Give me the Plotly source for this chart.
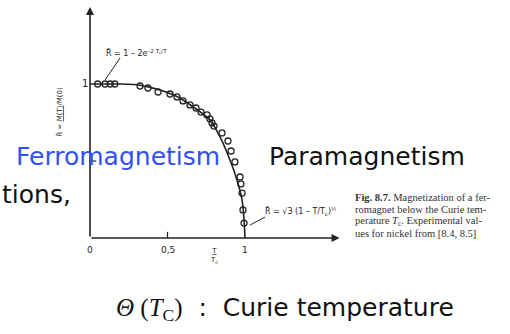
import plotly.graph_objects as go

# Experimental values for nickel: reduced temperature T/Tc and R = M(T)/M(0)
t_exp = [0.05, 0.097, 0.13, 0.16, 0.323, 0.374, 0.439, 0.516, 0.561, 0.600,
         0.645, 0.684, 0.716, 0.755, 0.774, 0.787, 0.800, 0.852, 0.890, 0.910,
         0.935, 0.968, 0.974, 0.981, 0.987, 0.994]
r_exp = [1.0, 1.0, 1.0, 1.0, 0.987, 0.974, 0.948, 0.935, 0.916, 0.890,
         0.864, 0.844, 0.818, 0.799, 0.773, 0.747, 0.727, 0.682, 0.630, 0.565,
         0.494, 0.396, 0.351, 0.292, 0.182, 0.097]

# Theoretical magnetization curve
t_theory = [0.0, 0.2, 0.3, 0.4, 0.5, 0.58, 0.65, 0.72, 0.774, 0.839, 0.903,
            0.948, 0.981, 0.994, 1.0]
r_theory = [1.0, 1.0, 0.995, 0.975, 0.945, 0.909, 0.862, 0.812, 0.766, 0.656,
            0.506, 0.377, 0.247, 0.117, 0.0]

x_tick_vals = [0, 0.5, 1]
x_tick_text = ["0", "0,5", "1"]

caption_lines = [
    "<b>Fig. 8.7.</b> Magnetization of a fer-",
    "romagnet below the Curie tem-",
    "perature <i>T</i><sub>c</sub>. Experimental val-",
    "ues for nickel from [8.4, 8.5]",
]
caption_rows_px = [197, 209, 221, 233]

INK = "#222222"
SERIF = "Liberation Serif, Times New Roman, serif"
SANS = "DejaVu Sans, Verdana, sans-serif"
W, H = 510, 334

fig = go.Figure()

fig.add_trace(go.Scatter(
    x=t_theory, y=r_theory, mode="lines",
    line=dict(color=INK, width=1.6, shape="spline", smoothing=0.6),
    hoverinfo="skip", showlegend=False))

fig.add_trace(go.Scatter(
    x=t_exp, y=r_exp, mode="markers",
    marker=dict(symbol="circle-open", size=6, color=INK, line=dict(width=1.3)),
    showlegend=False))

# Axes drawn as arrows
fig.add_annotation(x=0, y=1.50, ax=0, ay=0, xref="x", yref="y", axref="x", ayref="y",
                   showarrow=True, arrowhead=2, arrowsize=1, arrowwidth=1.6,
                   arrowcolor=INK, text="")
fig.add_annotation(x=1.61, y=0, ax=0, ay=0, xref="x", yref="y", axref="x", ayref="y",
                   showarrow=True, arrowhead=2, arrowsize=1, arrowwidth=1.6,
                   arrowcolor=INK, text="")

# Small tick marks
fig.add_shape(type="line", x0=0.5, x1=0.5, y0=0, y1=0.04, xref="x", yref="y",
              line=dict(color=INK, width=1.2))
fig.add_shape(type="line", x0=0, x1=0.04, y0=0.5, y1=0.5, xref="x", yref="y",
              line=dict(color=INK, width=1.2))

# Tick labels
for xv, xt in zip(x_tick_vals, x_tick_text):
    fig.add_annotation(x=xv, y=-0.078, xref="x", yref="y", text=xt, showarrow=False,
                       xanchor="center", yanchor="middle",
                       font=dict(family=SANS, size=9, color=INK))
fig.add_annotation(x=-0.03, y=1.006, xref="x", yref="y", text="1", showarrow=False,
                   xanchor="center", yanchor="middle",
                   font=dict(family=SANS, size=10, color=INK))
fig.add_annotation(x=0.8, y=-0.12, xref="x", yref="y",
                   text="<u>T</u><br>T<sub>c</sub>", showarrow=False,
                   xanchor="center", yanchor="middle",
                   font=dict(family=SANS, size=7, color=INK))

# Axis title
fig.add_annotation(x=-0.195, y=0.82, xref="x", yref="y", textangle=-90,
                   text="R̃ = <u>M(T)</u>/M(0)", showarrow=False,
                   xanchor="center", yanchor="middle",
                   font=dict(family=SANS, size=7, color=INK))

# Formula labels with leader lines
fig.add_shape(type="line", x0=0.097, y0=1.026, x1=0.194, y1=1.169, xref="x", yref="y",
              line=dict(color=INK, width=1))
fig.add_annotation(x=0.30, y=1.20, xref="x", yref="y",
                   text="R̃ = 1 – 2e<sup>–2 T<sub>c</sub>/T</sup>", showarrow=False,
                   xanchor="center", yanchor="middle",
                   font=dict(family=SANS, size=8, color=INK))
fig.add_shape(type="line", x0=1.032, y0=0.084, x1=1.129, y1=0.136, xref="x", yref="y",
              line=dict(color=INK, width=1))
fig.add_annotation(x=1.36, y=0.17, xref="x", yref="y",
                   text="R̃ = √3 (1 – T/T<sub>c</sub>)<sup>½</sup>", showarrow=False,
                   xanchor="center", yanchor="middle",
                   font=dict(family=SANS, size=8, color=INK))

# Figure caption, one annotation per printed line
for line, row in zip(caption_lines, caption_rows_px):
    fig.add_annotation(x=353 / W, y=1 - row / H, xref="paper", yref="paper",
                       xanchor="left", yanchor="middle", align="left", showarrow=False,
                       text=line, font=dict(family=SERIF, size=10.5, color="#333333"))

# Slide text
fig.add_annotation(x=118 / W, y=1 - 156 / H, xref="paper", yref="paper",
                   xanchor="center", yanchor="middle",
                   text="Ferromagnetism", showarrow=False,
                   font=dict(family=SANS, size=25, color="#3150f5"))
fig.add_annotation(x=367 / W, y=1 - 156 / H, xref="paper", yref="paper",
                   xanchor="center", yanchor="middle",
                   text="Paramagnetism", showarrow=False,
                   font=dict(family=SANS, size=25, color="#111111"))
fig.add_annotation(x=0, y=1 - 194 / H, xref="paper", yref="paper",
                   xanchor="left", yanchor="middle", text="tions,", showarrow=False,
                   font=dict(family=SANS, size=25, color="#111111"))
fig.add_annotation(x=285 / W, y=1 - 309 / H, xref="paper", yref="paper",
                   xanchor="center", yanchor="middle",
                   text=("<span style='font-family:Liberation Serif'><i>Θ</i> (<i>T</i>"
                         "<sub>C</sub>)</span>  :  Curie temperature"),
                   showarrow=False,
                   font=dict(family=SANS, size=25, color="#111111"))

fig.update_xaxes(visible=False, range=[-90 / 155, 420 / 155])
fig.update_yaxes(visible=False, range=[-96 / 154, 238 / 154])
fig.update_layout(width=W, height=H, margin=dict(l=0, r=0, t=0, b=0),
                  plot_bgcolor="white", paper_bgcolor="white", showlegend=False)

fig.write_html("out.html")
